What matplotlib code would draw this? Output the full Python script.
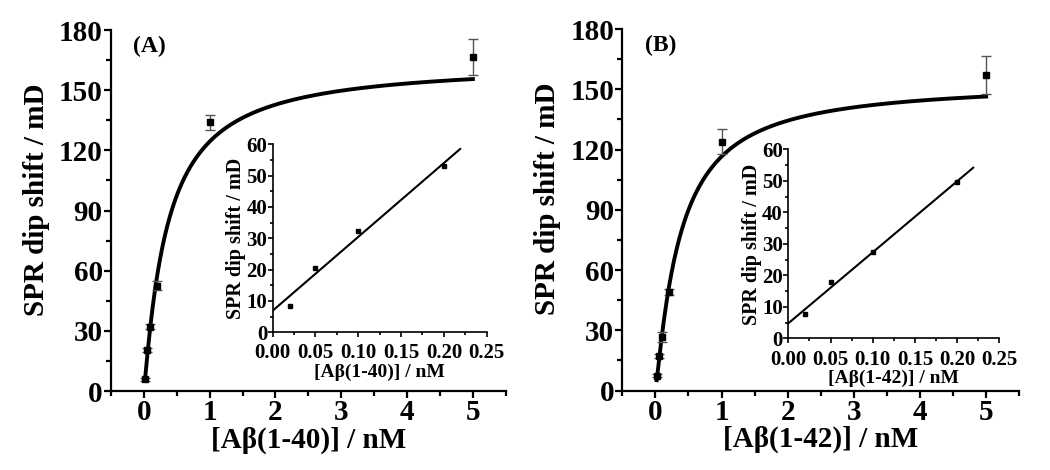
import numpy as np
import matplotlib
matplotlib.use("Agg")
import matplotlib.pyplot as plt
from matplotlib.ticker import MultipleLocator, FormatStrFormatter

plt.rcParams['font.family'] = ['Liberation Serif', 'DejaVu Serif']
plt.rcParams['font.weight'] = 'bold'

# concentrations (nM)
conc = [0.02, 0.05, 0.1, 0.2, 1.0, 5.0]

# panel A: A-beta(1-40)
shift_a = [5.8, 20.4, 32.1, 52.5, 134.0, 166.5]
err_a = [0.8, 1.0, 1.2, 2.2, 3.9, 9.0]
inset_conc = [0.02, 0.05, 0.1, 0.2]
inset_a = [8.5, 20.6, 32.2, 53.1]
# fit parameters (Hill type curve + linear fit)
hill_a = dict(bmax=164.0, kd=0.353, n=1.1)
lin_a = dict(slope=235.6, icpt=6.9)

# panel B: A-beta(1-42)
shift_b = [7.5, 17.4, 26.9, 49.3, 124.0, 157.1]
err_b = [0.8, 1.0, 2.5, 1.5, 6.2, 9.5]
inset_b = [7.6, 17.9, 27.3, 49.6]
hill_b = dict(bmax=153.8, kd=0.371, n=1.15)
lin_b = dict(slope=225.6, icpt=4.8)

panels = [
    ("(A)", "[A\u03b2(1-40)] / nM", shift_a, err_a, inset_a, hill_a, lin_a,
     [0.1057, 0.168, 0.376, 0.768], [0.2597, 0.293, 0.2038, 0.400]),
    ("(B)", "[A\u03b2(1-42)] / nM", shift_b, err_b, inset_b, hill_b, lin_b,
     [0.5927, 0.169, 0.378, 0.769], [0.7508, 0.280, 0.201, 0.402]),
]


def style_axes(ax, lw, major_len, minor_len, size):
    for s in ['top', 'right']:
        ax.spines[s].set_visible(False)
    for s in ['left', 'bottom']:
        ax.spines[s].set_linewidth(lw)
    ax.tick_params(which='major', direction='out', length=major_len, width=lw, labelsize=size)
    ax.tick_params(which='minor', direction='out', length=minor_len, width=lw)
    for lab in ax.get_xticklabels() + ax.get_yticklabels():
        lab.set_fontweight('bold')


fig = plt.figure(figsize=(10.5, 4.7), dpi=100)

for tag, xlab, shift, err, ins, hill, lin, pos, ipos in panels:
    ax = fig.add_axes(pos)
    ax.errorbar(conc, shift, yerr=err, fmt='s', color='black', ms=5,
                ecolor='#555555', elinewidth=1.0, capsize=3.5, capthick=1.0, zorder=3)
    xf = np.linspace(conc[0], conc[-1], 400)
    yf = hill['bmax'] * xf ** hill['n'] / (hill['kd'] ** hill['n'] + xf ** hill['n'])
    ax.plot(xf, yf, color='black', lw=2.8, zorder=2)
    ax.set_xlim(-0.5, 5.5)
    ax.set_ylim(0, 180)
    ax.xaxis.set_major_locator(MultipleLocator(1))
    ax.xaxis.set_minor_locator(MultipleLocator(0.5))
    ax.yaxis.set_major_locator(MultipleLocator(30))
    ax.yaxis.set_minor_locator(MultipleLocator(15))
    style_axes(ax, 1.6, 5, 3.5, 21)
    ax.tick_params(axis='x', pad=1)
    ax.tick_params(axis='y', pad=1)
    ax.set_xlabel(xlab, fontsize=21, fontweight='bold', labelpad=0)
    ax.set_ylabel("SPR dip shift / mD", fontsize=21, fontweight='bold')
    ax.yaxis.set_label_coords(-0.155, 0.53)
    ax.text(0.056, 0.985, tag, transform=ax.transAxes, fontsize=17,
            fontweight='bold', va='top', ha='left')

    # inset with the low concentration range
    axi = fig.add_axes(ipos)
    axi.plot(inset_conc, ins, 's', color='black', ms=2.2)
    xl = np.array([0.0, 0.219])
    axi.plot(xl, lin['icpt'] + lin['slope'] * xl, color='black', lw=1.5)
    axi.set_xlim(0, 0.25)
    axi.set_ylim(0, 60)
    axi.xaxis.set_major_locator(MultipleLocator(0.05))
    axi.xaxis.set_minor_locator(MultipleLocator(0.025))
    axi.yaxis.set_major_locator(MultipleLocator(10))
    axi.yaxis.set_minor_locator(MultipleLocator(5))
    axi.xaxis.set_major_formatter(FormatStrFormatter('%.2f'))
    style_axes(axi, 1.2, 3.5, 2.2, 15)
    axi.tick_params(axis='x', pad=4.5)
    axi.tick_params(axis='y', pad=0.5)
    for lab in axi.get_yticklabels():
        lab.set_verticalalignment('center_baseline')
    axi.set_xlabel(xlab, fontsize=14, fontweight='bold', labelpad=0)
    axi.set_ylabel("SPR dip shift / mD", fontsize=14.5, fontweight='bold', labelpad=0)

fig.savefig("out.png", dpi=100)
